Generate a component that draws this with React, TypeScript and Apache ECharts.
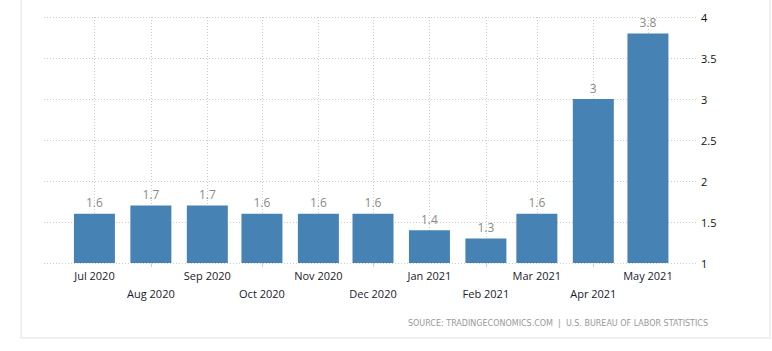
import React, { useEffect, useRef } from "react";
import * as echarts from "echarts";

const months: [number, number][] = [
  [2020, 6], [2020, 7], [2020, 8], [2020, 9], [2020, 10], [2020, 11],
  [2021, 0], [2021, 1], [2021, 2], [2021, 3], [2021, 4],
];
const monthLabels = [
  "Jul 2020", "Aug 2020", "Sep 2020", "Oct 2020", "Nov 2020", "Dec 2020",
  "Jan 2021", "Feb 2021", "Mar 2021", "Apr 2021", "May 2021",
];
const values = [1.6, 1.7, 1.7, 1.6, 1.6, 1.6, 1.4, 1.3, 1.6, 3.0, 3.8];
const yTicks = [1, 1.5, 2, 2.5, 3, 3.5, 4];
const sourceText = "SOURCE: TRADINGECONOMICS.COM  |  U.S. BUREAU OF LABOR STATISTICS";

const DAY = 86400000;

export default function App() {
  const ref = useRef<HTMLDivElement>(null);
  useEffect(() => {
    if (!ref.current) return;
    const chart = echarts.init(ref.current, undefined, { renderer: "svg" });
    const base = Date.UTC(months[0][0], months[0][1], 1);
    // day offsets of each month start from the first month
    const days = months.map(([y, m]) => Math.round((Date.UTC(y, m, 1) - base) / DAY));
    const altDays = days.filter((_, i) => i % 2 === 1);
    const minD = days[0] - 27.7;
    const maxD = days[days.length - 1] + 27.5;
    const labelFor = (v: number) => {
      const i = days.findIndex((d) => Math.abs(d - v) < 0.5);
      if (i < 0) return "";
      return i % 2 === 1 ? "\n" + monthLabels[i] : monthLabels[i];
    };
    chart.setOption({
      animation: false,
      textStyle: { fontFamily: "Open Sans" },
      grid: { left: 44, right: 74, top: 17, bottom: 88, containLabel: false },
      xAxis: [
        {
          type: "value",
          min: minD,
          max: maxD,
          axisLine: { show: false },
          axisTick: { show: false, customValues: days },
          splitLine: {
            show: true,
            lineStyle: { color: "#cccccc", type: [1, 2], width: 1 },
          },
          axisLabel: {
            customValues: days,
            formatter: (v: number) => labelFor(v),
            color: "#1a1a2e",
            fontSize: 11,
            fontFamily: "Open Sans",
            lineHeight: 18,
            margin: 3,
            showMinLabel: true,
            showMaxLabel: true,
          },
        },
        {
          type: "value",
          min: minD,
          max: maxD,
          position: "bottom",
          axisLine: { show: false },
          axisTick: {
            show: true,
            length: 4,
            customValues: altDays,
            lineStyle: { color: "#cccccc" },
          },
          splitLine: { show: false },
          axisLabel: { show: false },
        },
      ],
      yAxis: {
        type: "value",
        position: "right",
        min: yTicks[0],
        max: yTicks[yTicks.length - 1],
        interval: 0.5,
        axisLine: { show: false },
        axisTick: { show: false },
        splitLine: {
          show: true,
          lineStyle: { color: "#cccccc", type: [1, 2], width: 1 },
        },
        axisLabel: {
          color: "#111111",
          fontSize: 11,
          fontFamily: "Open Sans",
          margin: 3,
        },
      },
      series: [
        {
          type: "bar",
          xAxisIndex: 0,
          data: days.map((d, i) => [d, values[i]]),
          barWidth: 41,
          itemStyle: { color: "#4682b4" },
          label: {
            show: true,
            position: "top",
            distance: 5,
            color: "#8a8a8a",
            fontSize: 12,
            fontFamily: "Open Sans",
          },
        },
      ],
      graphic: [
        {
          type: "rect",
          shape: { x: 21, y: -5, width: 749, height: 343 },
          style: { fill: "none", stroke: "#eaeaea", lineWidth: 1.5 },
          silent: true,
        },
        {
          type: "text",
          x: 708,
          y: 323,
          style: {
            text: sourceText,
            fill: "#999999",
            fontSize: 8,
            fontFamily: "DejaVu Sans",
            align: "right",
            verticalAlign: "middle",
          },
        },
      ],
    });
    return () => chart.dispose();
  }, []);
  return (
    <div
      ref={ref}
      style={{ position: "fixed", left: 0, top: 0, width: 772, height: 351, background: "#fff" }}
    />
  );
}
